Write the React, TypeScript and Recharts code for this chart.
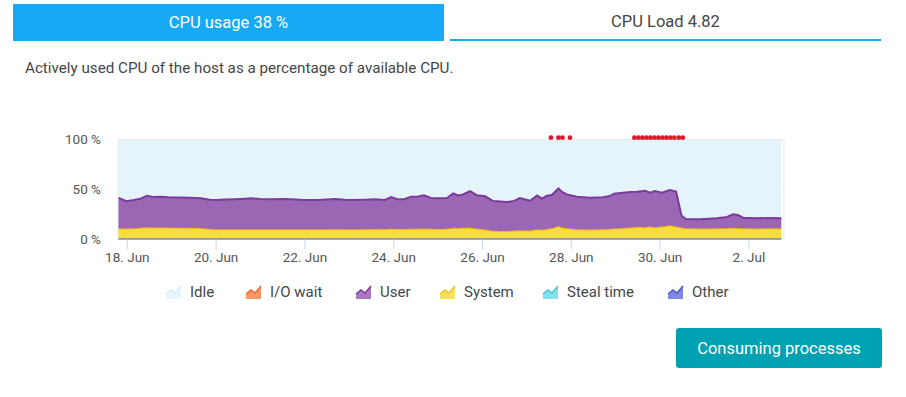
import React from "react";
import {
  ComposedChart,
  Area,
  Scatter,
  XAxis,
  YAxis,
  CartesianGrid,
  ReferenceLine,
} from "recharts";

// time in days since 18 Jun 00:00
const times = [
  -0.21, -0.02, 0.15, 0.31, 0.44, 0.58, 0.74, 0.92, 1.19, 1.41, 1.66, 1.86, 1.98, 2.2, 2.43, 2.65, 2.79,
  2.99, 3.24, 3.55, 3.78, 4.0, 4.29, 4.68, 4.9, 5.04, 5.35, 5.58, 5.8, 5.94, 6.1, 6.25, 6.39, 6.55, 6.68,
  6.84, 7.06, 7.2, 7.34, 7.45, 7.56, 7.72, 7.87, 8.06, 8.24, 8.4, 8.55, 8.69, 8.84, 9.07, 9.23, 9.34,
  9.45, 9.56, 9.71, 9.79, 9.9, 10.13, 10.42, 10.71, 10.87, 10.96, 11.16, 11.32, 11.48, 11.66, 11.77,
  11.88, 12.04, 12.22, 12.36, 12.48, 12.58, 12.9, 13.28, 13.51, 13.64, 13.75, 13.87, 14.14, 14.41, 14.73,
];

const userValues = [
  30.6, 27.3, 28.2, 29.2, 31.6, 30.5, 30.8, 30.3, 30.2, 30.0, 29.7, 29.2, 29.3, 29.8, 30.0, 30.5, 31.0,
  30.3, 29.9, 30.3, 29.8, 29.2, 29.3, 30.1, 29.5, 29.2, 29.4, 29.7, 29.0, 31.7, 29.4, 29.9, 32.0, 32.2,
  33.2, 30.7, 30.6, 30.7, 34.4, 32.5, 33.3, 36.5, 33.3, 33.2, 29.7, 29.4, 28.9, 29.5, 32.3, 29.8, 33.8,
  31.0, 33.2, 33.3, 37.5, 35.5, 33.8, 32.6, 31.8, 32.0, 32.9, 34.8, 35.3, 35.5, 35.0, 36.6, 33.8, 36.2,
  33.8, 35.2, 35.0, 12.0, 9.3, 9.3, 10.0, 11.0, 13.5, 13.0, 10.6, 10.2, 10.3, 10.0,
];

const systemValues = [
  9.9, 9.7, 10.0, 10.5, 10.9, 10.7, 10.7, 10.6, 10.5, 10.5, 10.2, 9.3, 8.9, 8.9, 9.0, 9.0, 8.9, 8.9,
  9.0, 8.9, 8.9, 9.0, 9.0, 9.1, 9.0, 9.0, 9.1, 9.2, 9.2, 9.5, 9.3, 9.3, 9.5, 9.5, 9.7, 9.5, 9.3, 9.5,
  10.5, 10.2, 10.4, 10.5, 9.7, 8.7, 7.5, 7.3, 7.3, 7.4, 7.9, 7.7, 8.9, 8.5, 9.3, 9.9, 12.2, 10.7, 9.9,
  8.9, 8.7, 8.9, 9.3, 9.7, 10.2, 10.7, 11.5, 10.9, 11.7, 11.0, 11.7, 13.0, 11.7, 10.7, 9.9, 9.7, 9.9,
  10.2, 10.5, 10.2, 9.9, 9.7, 9.9, 9.9,
];

const otherValues = times.map(() => 1.0);
const ioWaitValues = times.map(() => 0.3);
const stealValues = times.map(() => 0);

// problem events markers (days)
const eventTimes = [
  9.54, 9.71, 9.8, 9.97, 11.42, 11.51, 11.6, 11.69, 11.78, 11.87, 11.96, 12.05, 12.14, 12.23, 12.32,
  12.42, 12.51,
];

const xTicks = [0, 2, 4, 6, 8, 10, 12, 14];
const xTickLabels = ["18. Jun", "20. Jun", "22. Jun", "24. Jun", "26. Jun", "28. Jun", "30. Jun", "2. Jul"];
const yTicks = [0, 50, 100];

const data = times.map((t, i) => {
  const other = otherValues[i];
  const steal = stealValues[i];
  const system = systemValues[i];
  const iowait = ioWaitValues[i];
  const user = userValues[i];
  const used = other + steal + system + iowait + user;
  // idle is the remaining share on top of the used part, drawn as a range [used, 100]
  return { t, other, steal, system, iowait, user, idleRange: [used, 100] };
});

const events = eventTimes.map((t) => ({ t, ev: 101.8 }));

const legendItems = [
  { name: "Idle", fill: "#e3f3fb", stroke: "#d2ebf8", x: 165 },
  { name: "I/O wait", fill: "#f7844f", stroke: "#ef6a32", x: 245 },
  { name: "User", fill: "#9b5fb5", stroke: "#7a3a9e", x: 355 },
  { name: "System", fill: "#f6dc3f", stroke: "#eec51c", x: 439 },
  { name: "Steal time", fill: "#6fdbe6", stroke: "#45c9d8", x: 542 },
  { name: "Other", fill: "#6a73dc", stroke: "#4b57d3", x: 667 },
];

const FONT = "Roboto, 'Noto Sans', sans-serif";
const TEXT = "#454646";
const X_MIN = -0.21;
const X_MAX = 14.79;

function LegendIcon({ fill, stroke }: { fill: string; stroke: string }) {
  return (
    <svg width={17} height={14} style={{ display: "block" }}>
      <path d="M1 14 L1 9 L6 5 L10 8 L16 1 L16 14 Z" fill={fill} opacity={0.85} />
      <path d="M1 9 L6 5 L10 8 L16 1" fill="none" stroke={stroke} strokeWidth={1.5} />
    </svg>
  );
}

export default function App() {
  return (
    <div style={{ fontFamily: FONT }}>
      <div
        style={{
          position: "absolute",
          left: 13,
          top: 4,
          width: 431,
          height: 37,
          background: "#17a9f4",
          color: "#ffffff",
          fontSize: 16.5,
          display: "flex",
          alignItems: "center",
          justifyContent: "center",
        }}
      >
        CPU usage 38 %
      </div>
      <div
        style={{
          position: "absolute",
          left: 450,
          top: 4,
          width: 431,
          height: 35,
          borderBottom: "2px solid #17a9f4",
          color: TEXT,
          fontSize: 16.5,
          display: "flex",
          alignItems: "center",
          justifyContent: "center",
        }}
      >
        CPU Load 4.82
      </div>
      <div
        style={{
          position: "absolute",
          left: 25,
          top: 59,
          fontSize: 15.2,
          lineHeight: "19px",
          color: TEXT,
          whiteSpace: "nowrap",
        }}
      >
        Actively used CPU of the host as a percentage of available CPU.
      </div>

      <div style={{ position: "absolute", left: 40, top: 120 }}>
        <ComposedChart
          width={760}
          height={150}
          data={data}
          margin={{ top: 15.5, right: 16, bottom: 0.5, left: 0 }}
        >
          <CartesianGrid horizontal vertical={false} horizontalValues={[50]} stroke="#e6e9ee" />
          <XAxis
            dataKey="t"
            type="number"
            domain={[X_MIN, X_MAX]}
            ticks={xTicks}
            tickFormatter={(v: number) => xTickLabels[xTicks.indexOf(v)] ?? ""}
            axisLine={false}
            tickLine={{ stroke: "#ccd6eb" }}
            tickSize={10}
            tickMargin={3}
            height={30}
            tick={{ fill: "#555555", fontSize: 13.5, fontFamily: FONT }}
            interval={0}
          />
          <YAxis
            type="number"
            domain={[0, 104]}
            ticks={yTicks}
            tickFormatter={(v: number) => `${v} %`}
            axisLine={false}
            tickLine={false}
            tickSize={6}
            tickMargin={11}
            width={78}
            tick={{ fill: "#555555", fontSize: 13.5, fontFamily: FONT }}
          />
          <Area
            type="linear"
            dataKey="idleRange"
            fill="#e5f4fb"
            fillOpacity={1}
            stroke="none"
            isAnimationActive={false}
          />
          <Area
            type="linear"
            dataKey="other"
            stackId="cpu"
            fill="#6a73dc"
            fillOpacity={1}
            stroke="#4b57d3"
            strokeWidth={1.5}
            isAnimationActive={false}
          />
          <Area
            type="linear"
            dataKey="steal"
            stackId="cpu"
            fill="#6fdbe6"
            fillOpacity={1}
            stroke="none"
            isAnimationActive={false}
          />
          <Area
            type="linear"
            dataKey="system"
            stackId="cpu"
            fill="#f6dc3f"
            fillOpacity={1}
            stroke="#ebb915"
            strokeWidth={1.3}
            isAnimationActive={false}
          />
          <Area
            type="linear"
            dataKey="iowait"
            stackId="cpu"
            fill="#f7844f"
            fillOpacity={1}
            stroke="none"
            isAnimationActive={false}
          />
          <Area
            type="linear"
            dataKey="user"
            stackId="cpu"
            fill="#9b67b4"
            fillOpacity={1}
            stroke="#7a3a9e"
            strokeWidth={2}
            isAnimationActive={false}
          />
          <ReferenceLine
            segment={[
              { x: X_MIN, y: 100 },
              { x: X_MAX, y: 100 },
            ]}
            stroke="#e8eaee"
          />
          <ReferenceLine
            segment={[
              { x: X_MIN, y: 0 },
              { x: X_MIN, y: 100 },
            ]}
            stroke="#e8eaee"
          />
          <ReferenceLine
            segment={[
              { x: X_MAX, y: 0 },
              { x: X_MAX, y: 100 },
            ]}
            stroke="#e8eaee"
          />
          <Scatter
            data={events}
            dataKey="ev"
            fill="#e2182b"
            isAnimationActive={false}
            shape={(p: any) => <circle cx={p.cx} cy={p.cy} r={2.4} fill="#e2182b" />}
          />
        </ComposedChart>
      </div>

      {legendItems.map((it) => (
        <div
          key={it.name}
          style={{
            position: "absolute",
            left: it.x,
            top: 283,
            height: 17,
            display: "flex",
            alignItems: "center",
            fontSize: 15,
            color: TEXT,
            whiteSpace: "nowrap",
          }}
        >
          <LegendIcon fill={it.fill} stroke={it.stroke} />
          <span style={{ marginLeft: 8 }}>{it.name}</span>
        </div>
      ))}

      <div
        style={{
          position: "absolute",
          left: 676,
          top: 328,
          width: 206,
          height: 40,
          borderRadius: 3,
          background: "#00a1b2",
          color: "#ffffff",
          fontSize: 16.5,
          display: "flex",
          alignItems: "center",
          justifyContent: "center",
        }}
      >
        Consuming processes
      </div>
    </div>
  );
}
